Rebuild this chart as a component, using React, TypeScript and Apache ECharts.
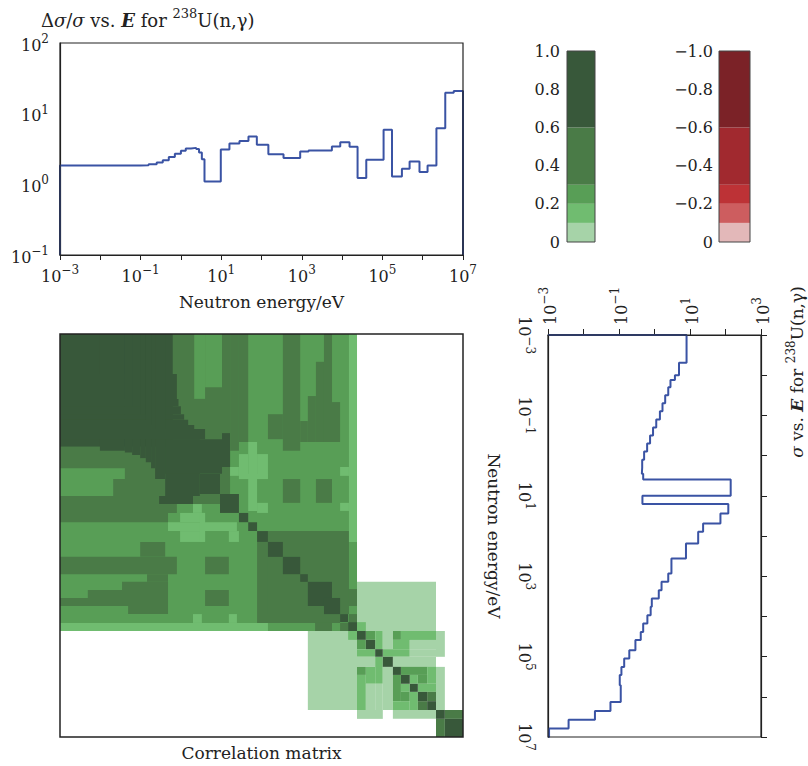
import { useEffect, useRef } from 'react';
import * as echarts from 'echarts';

const FONT = '"DejaVu Serif", "Liberation Serif", serif';
const INK = '#222';
const BLUE = '#3a53a4';

// ---- Δσ/σ vs. E (top panel): group boundaries (eV) and relative uncertainty
const uncEdgesEV = [
  0.001, 0.1, 0.158, 0.251, 0.355, 0.501, 0.708, 1.0, 1.32, 1.78, 2.4, 2.82, 3.31, 3.85,
  9.77, 16.0, 28.4, 47.5, 76.6, 148, 352, 912, 1470, 2600, 5580, 9000, 15300, 24200,
  39800, 107000, 173000, 305000, 473000, 832000, 1320000, 2190000, 3630000, 5890000, 10000000,
];
const uncValues = [
  1.85, 1.86, 1.93, 2.04, 2.2, 2.43, 2.7, 2.98, 3.21, 3.28, 3.15, 2.82, 2.27, 1.1,
  3.1, 3.78, 4.12, 4.74, 3.63, 2.67, 2.35, 2.92, 3.0, 3.02, 3.43, 3.95, 3.39, 1.23,
  2.22, 5.9, 1.29, 1.66, 2.1, 1.49, 1.85, 6.2, 19.8, 21,
];

// ---- σ vs. E (right panel): group boundaries (eV) and cross section (b)
const xsEdgesEV = [
  0.001, 0.0049, 0.01, 0.0132, 0.02, 0.0316, 0.0501, 0.0794, 0.126, 0.2, 0.316, 0.501, 0.794,
  1.26, 2.0, 2.82, 3.92, 10, 16.1, 27.5, 49, 78.7, 154, 363, 851, 1380, 2240, 3600, 5750,
  9330, 15100, 24300, 38900, 69200, 112000, 182000, 288000, 513000, 1350000, 2240000,
  3720000, 6170000, 10000000,
];
const xsValues = [
  8.0, 4.9, 3.76, 2.82, 2.44, 2.0, 1.68, 1.42, 1.12, 0.91, 0.75, 0.62, 0.51, 0.45, 0.44, 0.48,
  140, 0.457, 120, 72, 23.4, 17, 7.7, 3.0, 2.44, 1.58, 1.32, 0.84, 0.78, 0.63, 0.48, 0.41,
  0.29, 0.195, 0.14, 0.117, 0.105, 0.112, 0.0575, 0.021, 0.0038, 0.00107,
];

// ---- colour scale of the correlation matrix
const levelEdges = [0, 0.1, 0.2, 0.3, 0.6, 1.0];
const greenColors = ['#a6d3a8', '#70bc70', '#589e56', '#4a7b47', '#38583a'];
const redColors = ['#e3b8b9', '#cd5d5f', '#bd3236', '#a1292f', '#7b2227'];

// ---- correlation matrix blocks in log10(E/eV): [x0, x1, y0, y1, r]
// each block is also drawn mirrored about the diagonal (symmetric matrix)
const corrBlocks = [
  [-3, 4.37, -3, 4.37, 0.25],
  [-3, 0.47, -0.2, 1.22, 0.45],
  [-3, -1.39, 0.33, 0.6, 0.25],
  [-3, -1.68, 0.6, 1.02, 0.25],
  [0.3, 0.97, 0.97, 1.22, 0.45],
  [-3, -0.2, -3, -0.2, 0.8],
  [-2.01, -1.39, -3, -0.1, 0.8],
  [-1.39, -1.21, -3, -0.06, 0.8],
  [-1.21, -1.01, -3, 0.0, 0.8],
  [-1.01, -0.87, -3, 0.08, 0.8],
  [-0.87, -0.74, -3, 0.18, 0.8],
  [-0.74, -0.64, -3, 0.33, 0.8],
  [-0.64, -0.39, -3, 0.6, 0.8],
  [-0.39, 0.47, -0.39, 1.02, 0.8],
  [-0.54, 0.3, 1.02, 1.22, 0.8],
  [-3, -0.1, 1.22, 1.44, 0.45],
  [0.3, 0.52, 1.22, 1.44, 0.15],
  [-3, -0.32, 1.44, 1.67, 0.45],
  [-0.02, 0.6, 1.44, 1.67, 0.15],
  [-0.32, 1.39, 1.67, 1.89, 0.15],
  [-0.02, 0.6, 1.89, 2.16, 0.15],
  [1.19, 1.44, 1.89, 2.16, 0.15],
  [0.47, 0.6, 1.44, 2.16, 0.15],
  [-1.01, -0.39, 2.16, 2.53, 0.45],
  [-3, -0.1, 2.53, 2.96, 0.45],
  [0.6, 1.19, 2.53, 2.96, 0.45],
  [-0.84, -0.32, 2.96, 3.15, 0.45],
  [-1.46, -0.32, 3.15, 3.35, 0.45],
  [-2.31, -0.32, 3.35, 3.55, 0.45],
  [0.6, 1.19, 3.35, 3.75, 0.45],
  [-3, -0.32, 3.55, 3.75, 0.45],
  [-1.31, -0.32, 3.75, 3.95, 0.45],
  [1.89, 3.95, 2.16, 4.17, 0.45],
  [-3, 2.16, 4.17, 4.37, 0.15],
  [3.33, 3.75, 4.17, 4.37, 0.45],
  [3.95, 4.15, 4.17, 4.37, 0.45],
  [0.3, 0.52, 3.95, 4.17, 0.15],
  [1.19, 1.39, 3.95, 4.17, 0.15],
  [4.37, 6.33, 3.15, 4.37, 0.05],
  [6.33, 6.55, 4.37, 5.01, 0.05],
  [6.33, 6.55, 5.26, 6.33, 0.05],
  [4.37, 4.59, 4.15, 4.37, 0.15],
  [4.59, 4.82, 4.37, 4.59, 0.25],
  [4.82, 5.01, 4.37, 4.82, 0.15],
  [5.01, 5.26, 4.37, 4.82, 0.05],
  [5.26, 5.46, 4.37, 4.59, 0.25],
  [5.46, 6.33, 4.37, 4.59, 0.15],
  [5.26, 5.68, 4.59, 4.82, 0.15],
  [5.68, 6.33, 4.59, 4.82, 0.05],
  [5.01, 5.68, 4.82, 5.01, 0.15],
  [5.68, 6.33, 4.82, 5.01, 0.05],
  [5.26, 6.33, 5.01, 5.26, 0.05],
  [5.46, 6.11, 5.26, 5.46, 0.25],
  [6.11, 6.33, 5.26, 5.68, 0.15],
  [5.68, 5.88, 5.46, 5.68, 0.15],
  [5.88, 6.11, 5.46, 5.68, 0.25],
  [5.88, 6.33, 5.68, 5.88, 0.15],
  [6.11, 6.33, 5.88, 6.11, 0.45],
  [6.55, 7, 6.33, 6.55, 0.45],
];
const corrDiagonal = [
  [0.47, 0.97], [0.97, 1.44], [1.44, 1.67], [1.67, 1.89], [1.89, 2.16], [2.16, 2.53],
  [2.53, 2.96], [2.96, 3.15], [3.15, 3.75], [3.55, 3.95], [3.95, 4.15], [4.15, 4.37],
  [4.37, 4.59], [4.59, 4.82], [4.82, 5.01], [5.01, 5.26], [5.26, 5.46], [5.46, 5.68],
  [5.68, 5.88], [5.88, 6.11], [6.11, 6.33], [6.33, 6.55], [6.55, 7.0],
];
const diagonalCorr = 0.8;

const lg = (v: number) => Math.log10(v);

function corrColor(r: number) {
  const a = Math.abs(r);
  let i = 0;
  while (i < levelEdges.length - 2 && a >= levelEdges[i + 1]) i++;
  return r < 0 ? redColors[i] : greenColors[i];
}

function powLabel(v: number, showEven: boolean) {
  const e = Math.round(v);
  if (!showEven && e % 2 === 0) return '';
  return `{b|10}{s|${e < 0 ? '\u2212' : ''}${Math.abs(e)}}`;
}

const tickRich = {
  b: { fontFamily: FONT, fontSize: 16, color: INK, lineHeight: 20, verticalAlign: 'bottom' },
  s: { fontFamily: FONT, fontSize: 12, color: INK, lineHeight: 13, verticalAlign: 'top' },
};

function buildOption() {
  // top panel staircase
  const uncPts: number[][] = [[lg(uncEdgesEV[0]), -1]];
  uncValues.forEach((v, i) => {
    uncPts.push([lg(uncEdgesEV[i]), lg(v)], [lg(uncEdgesEV[i + 1]), lg(v)]);
  });
  uncPts.push([lg(uncEdgesEV[uncEdgesEV.length - 1]), -1]);

  // right panel staircase (σ on x, E on y)
  const xsPts: number[][] = [[-3, lg(xsEdgesEV[0])]];
  xsValues.forEach((v, i) => {
    xsPts.push([lg(v), lg(xsEdgesEV[i])], [lg(v), lg(xsEdgesEV[i + 1])]);
  });
  xsPts.push([-3, lg(xsEdgesEV[xsEdgesEV.length - 1])]);

  const matrixData: number[][] = [];
  corrBlocks.forEach((b) => {
    matrixData.push(b);
    if (!(b[0] === b[2] && b[1] === b[3])) matrixData.push([b[2], b[3], b[0], b[1], b[4]]);
  });
  corrDiagonal.forEach(([a, b]) => matrixData.push([a, b, a, b, diagonalCorr]));

  const nameStyle = { fontFamily: FONT, fontSize: 17, color: INK };
  const axisLine = { show: true, onZero: false, lineStyle: { color: INK, width: 1.2 } };

  const greenSeries = greenColors.map((c, i) => ({
    type: 'bar', xAxisIndex: 3, yAxisIndex: 4, stack: 'g', barWidth: '100%', silent: true,
    data: [levelEdges[i + 1] - levelEdges[i]], itemStyle: { color: c },
  }));
  const redSeries = redColors.map((c, i) => ({
    type: 'bar', xAxisIndex: 4, yAxisIndex: 5, stack: 'r', barWidth: '100%', silent: true,
    data: [-(levelEdges[i + 1] - levelEdges[i])], itemStyle: { color: c },
  }));

  const mk = (colorKey: string, fs: number) => ({
    n: { fontFamily: FONT, fontSize: fs, fontWeight: 'normal', [colorKey]: INK, lineHeight: fs + 4, verticalAlign: 'bottom' },
    i: { fontFamily: FONT, fontSize: fs, fontStyle: 'italic', fontWeight: 'normal', [colorKey]: INK, lineHeight: fs + 4, verticalAlign: 'bottom' },
    bi: { fontFamily: FONT, fontSize: fs, fontStyle: 'italic', fontWeight: 'bold', [colorKey]: INK, lineHeight: fs + 4, verticalAlign: 'bottom' },
    s: { fontFamily: FONT, fontSize: fs - 5, fontWeight: 'normal', [colorKey]: INK, lineHeight: fs - 3, verticalAlign: 'top' },
  });

  return {
    animation: false,
    backgroundColor: '#fff',
    title: {
      left: 36, top: 2,
      text: '{n|\u0394}{i|\u03c3}{n|/}{i|\u03c3}{n| vs. }{bi|E}{n| for }{s|238}{n|U(n,\u03b3)}',
      textStyle: { fontWeight: 'normal', fontFamily: FONT, rich: mk('color', 18) },
    },
    graphic: [
      {
        type: 'text', x: 795, y: 372, rotation: Math.PI / 2,
        style: {
          text: '{i|\u03c3}{n| vs. }{bi|E}{n| for }{s|238}{n|U(n,\u03b3)}',
          rich: mk('fill', 17), align: 'center', verticalAlign: 'middle', fill: INK,
          fontFamily: FONT, fontWeight: 'normal',
        },
      },
    ],
    grid: [
      { left: 60, top: 43, width: 403, height: 212, show: true, borderColor: INK, borderWidth: 1.2, z: 10, backgroundColor: 'transparent' },
      { left: 60, top: 334, width: 403, height: 403, show: true, borderColor: INK, borderWidth: 1.5, z: 10, backgroundColor: 'transparent' },
      { left: 548, top: 335, width: 213, height: 402, show: true, borderColor: INK, borderWidth: 1.2, z: 10, backgroundColor: 'transparent' },
      { left: 567, top: 51, width: 28, height: 191, show: true, borderColor: '#444', borderWidth: 1, z: 10, backgroundColor: 'transparent' },
      { left: 719, top: 51, width: 31, height: 191, show: true, borderColor: '#444', borderWidth: 1, z: 10, backgroundColor: 'transparent' },
    ],
    xAxis: [
      {
        gridIndex: 0, type: 'value', min: -3, max: 7, interval: 1, position: 'bottom',
        axisLine, axisTick: { show: true, length: 5, lineStyle: { color: INK } },
        splitLine: { show: false },
        axisLabel: { margin: 9, formatter: (v: number) => powLabel(v, false), rich: tickRich },
        name: 'Neutron energy/eV', nameLocation: 'middle', nameGap: 38, nameTextStyle: nameStyle,
      },
      {
        gridIndex: 1, type: 'value', min: -3, max: 7, position: 'bottom',
        axisLine: { show: false }, axisTick: { show: false }, axisLabel: { show: false }, splitLine: { show: false },
        name: 'Correlation matrix', nameLocation: 'middle', nameGap: 7, nameTextStyle: { ...nameStyle, verticalAlign: 'top' },
      },
      {
        gridIndex: 2, type: 'value', min: -3, max: 3, interval: 1, position: 'top',
        axisLine, axisTick: { show: true, length: 6, lineStyle: { color: INK } },
        splitLine: { show: false },
        axisLabel: { margin: 10, rotate: -90, formatter: (v: number) => powLabel(v, false), rich: tickRich },
      },
      { gridIndex: 3, type: 'category', data: ['r'], show: false },
      { gridIndex: 4, type: 'category', data: ['r'], show: false },
    ],
    yAxis: [
      {
        gridIndex: 0, type: 'value', min: -1, max: 2, interval: 1,
        axisLine, axisTick: { show: false }, splitLine: { show: false },
        axisLabel: { margin: 11, formatter: (v: number) => powLabel(v, true), rich: tickRich },
      },
      {
        gridIndex: 1, type: 'value', min: -3, max: 7, inverse: true, show: false,
      },
      {
        gridIndex: 2, type: 'value', min: -3, max: 7, interval: 1, inverse: true, position: 'left',
        axisLine, axisTick: { show: false }, splitLine: { show: false },
        axisLabel: { margin: 12, rotate: -90, formatter: (v: number) => powLabel(v, false), rich: tickRich },
        name: 'Neutron energy/eV', nameLocation: 'middle', nameRotate: -90, nameGap: 46, nameTextStyle: nameStyle,
      },
      {
        gridIndex: 2, type: 'value', min: -3, max: 7, interval: 1, inverse: true, position: 'right',
        axisLine, axisTick: { show: true, length: 6, lineStyle: { color: INK } },
        axisLabel: { show: false }, splitLine: { show: false },
      },
      {
        gridIndex: 3, type: 'value', min: 0, max: 1, interval: 0.2,
        axisLine: { show: false }, axisTick: { show: false }, splitLine: { show: false },
        axisLabel: {
          margin: 7, fontFamily: FONT, fontSize: 16, color: INK,
          formatter: (v: number) => (Math.abs(v) < 1e-9 ? '0' : v.toFixed(1)),
        },
      },
      {
        gridIndex: 4, type: 'value', min: -1, max: 0, interval: 0.2, inverse: true,
        axisLine: { show: false }, axisTick: { show: false }, splitLine: { show: false },
        axisLabel: {
          margin: 6, fontFamily: FONT, fontSize: 16, color: INK,
          formatter: (v: number) => (Math.abs(v) < 1e-9 ? '0' : '\u2212' + Math.abs(v).toFixed(1)),
        },
      },
    ],
    series: [
      {
        type: 'line', xAxisIndex: 0, yAxisIndex: 0, data: uncPts, showSymbol: false, silent: true,
        lineStyle: { color: BLUE, width: 2 }, z: 5,
      },
      {
        type: 'custom', xAxisIndex: 1, yAxisIndex: 1, silent: true,
        encode: { x: [0, 1], y: [2, 3] },
        data: matrixData,
        renderItem: (_p: any, api: any) => {
          const p0 = api.coord([api.value(0), api.value(2)]);
          const p1 = api.coord([api.value(1), api.value(3)]);
          return {
            type: 'rect',
            shape: {
              x: Math.min(p0[0], p1[0]), y: Math.min(p0[1], p1[1]),
              width: Math.abs(p1[0] - p0[0]), height: Math.abs(p1[1] - p0[1]),
            },
            style: { fill: corrColor(api.value(4)) },
          };
        },
      },
      {
        type: 'line', xAxisIndex: 2, yAxisIndex: 2, data: xsPts, showSymbol: false, silent: true,
        lineStyle: { color: BLUE, width: 2 }, z: 5,
      },
      ...greenSeries,
      ...redSeries,
    ],
  };
}

export default function App() {
  const ref = useRef<HTMLDivElement>(null);
  useEffect(() => {
    const chart = echarts.init(ref.current!, null, { renderer: 'svg' });
    chart.setOption(buildOption() as any);
    return () => chart.dispose();
  }, []);
  return (
    <div
      ref={ref}
      style={{ position: 'fixed', left: 0, top: 0, width: 808, height: 766, background: '#fff' }}
    />
  );
}
